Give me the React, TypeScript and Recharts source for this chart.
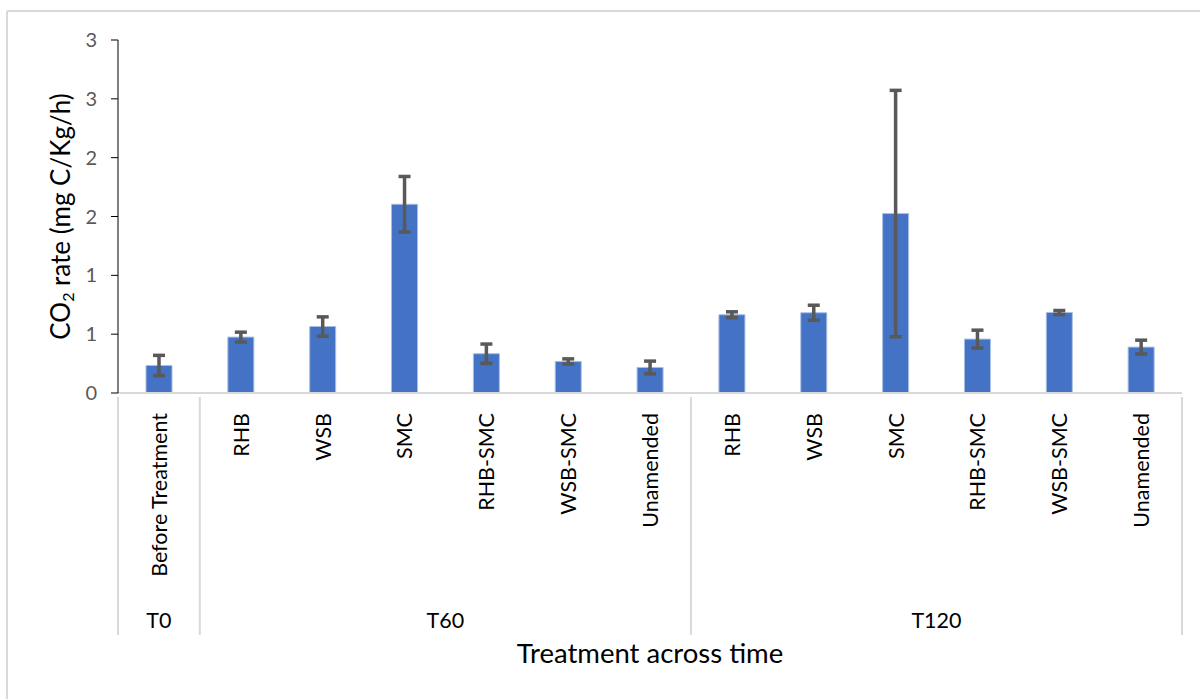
import React from 'react';
import { BarChart, Bar, XAxis, YAxis, ErrorBar } from 'recharts';

const treatments = [
  'Before Treatment',
  'RHB', 'WSB', 'SMC', 'RHB-SMC', 'WSB-SMC', 'Unamended',
  'RHB', 'WSB', 'SMC', 'RHB-SMC', 'WSB-SMC', 'Unamended',
];
const times = ['T0', 'T60', 'T60', 'T60', 'T60', 'T60', 'T60', 'T120', 'T120', 'T120', 'T120', 'T120', 'T120'];
const co2Rate = [0.234, 0.475, 0.565, 1.604, 0.334, 0.268, 0.217, 0.665, 0.682, 1.525, 0.458, 0.684, 0.39];
const co2Err = [0.086, 0.042, 0.082, 0.236, 0.082, 0.022, 0.054, 0.025, 0.064, 1.047, 0.076, 0.017, 0.059];
const yTicks = [0, 0.5, 1, 1.5, 2, 2.5, 3];

const data = treatments.map((name, i) => ({
  key: `${times[i]}|${name}`,
  name,
  time: times[i],
  rate: co2Rate[i],
  err: co2Err[i],
}));

const FONT = 'Lato, "Open Sans", sans-serif';
const GRID = '#d9d9d9';

// group sizes / starts worked out from the times list
const groupStart = (i: number) => {
  let s = i;
  while (s > 0 && times[s - 1] === times[i]) s--;
  return s;
};
const groupSize = (i: number) => times.filter((t) => t === times[i]).length;

const CategoryTick = (props: any) => {
  const { x, y, payload, index } = props;
  const off = payload.offset || 0;
  const i = index;
  const axisY = y - 4;
  const s = groupStart(i);
  const n = groupSize(i);
  const sepBottom = axisY + 238;
  const mid = s + Math.floor((n - 1) / 2);
  return (
    <g>
      <text
        x={x}
        y={axisY + 16}
        transform={`rotate(-90, ${x}, ${axisY + 16})`}
        textAnchor="end"
        dominantBaseline="central"
        fontFamily={FONT}
        fontSize={21.5}
        fill="#000"
      >
        {treatments[i]}
      </text>
      {i === s && <line x1={x - off} x2={x - off} y1={axisY} y2={sepBottom} stroke={GRID} strokeWidth={2} />}
      {i === treatments.length - 1 && (
        <line x1={x + off} x2={x + off} y1={axisY} y2={sepBottom} stroke={GRID} strokeWidth={2} />
      )}
      {i === mid && (
        <text
          x={n % 2 === 1 ? x : x + off}
          y={axisY + 223}
          textAnchor="middle"
          dominantBaseline="central"
          fontFamily={FONT}
          fontSize={21.5}
          fill="#000"
        >
          {times[i]}
        </text>
      )}
    </g>
  );
};

const YTitle = (props: any) => {
  const { viewBox } = props;
  const cx = 60;
  const cy = viewBox.y + viewBox.height / 2;
  return (
    <text
      x={cx}
      y={cy}
      transform={`rotate(-90, ${cx}, ${cy})`}
      textAnchor="middle"
      dominantBaseline="central"
      fontFamily={FONT}
      fontSize={26}
      fill="#000"
    >
      CO
      <tspan fontSize={16} dy={7}>2</tspan>
      <tspan dy={-7}> rate (mg C/Kg/h)</tspan>
    </text>
  );
};

const App = () => {
  return (
    <div style={{ position: 'absolute', left: 0, top: 0, width: 1200, height: 699, background: '#fff' }}>
      <svg width={1200} height={699} style={{ position: 'absolute', left: 0, top: 0 }}>
        <line x1={7} x2={1200} y1={11} y2={11} stroke={GRID} strokeWidth={2} />
        <line x1={7} x2={7} y1={11} y2={699} stroke={GRID} strokeWidth={2} />
      </svg>
      <div style={{ position: 'absolute', left: 0, top: 0 }}>
        <BarChart
          width={1200}
          height={699}
          data={data}
          margin={{ top: 40, right: 18, bottom: 0, left: 58 }}
          barSize={26}
        >
          <XAxis
            dataKey="key"
            interval={0}
            height={306}
            axisLine={{ stroke: GRID, strokeWidth: 2 }}
            tickLine={false}
            tick={<CategoryTick />}
            label={{
              value: 'Treatment across time',
              position: 'insideBottom',
              offset: 36,
              fontFamily: FONT,
              fontSize: 27.5,
              fill: '#000',
            }}
          />
          <YAxis
            domain={[0, 3]}
            ticks={yTicks}
            width={60}
            tickFormatter={(v: number) => String(Math.round(v))}
            axisLine={{ stroke: '#000' }}
            tickLine={{ stroke: '#000' }}
            tickSize={7}
            tickMargin={14}
            tick={{ fontFamily: FONT, fontSize: 20, fill: '#595959' }}
            label={<YTitle />}
          />
          <Bar dataKey="rate" fill="#4472C4" stroke="#A9BEE4" strokeWidth={1} isAnimationActive={false}>
            <ErrorBar dataKey="err" width={6} stroke="#595959" strokeWidth={3.5} direction="y" />
          </Bar>
        </BarChart>
      </div>
    </div>
  );
};

export default App;
